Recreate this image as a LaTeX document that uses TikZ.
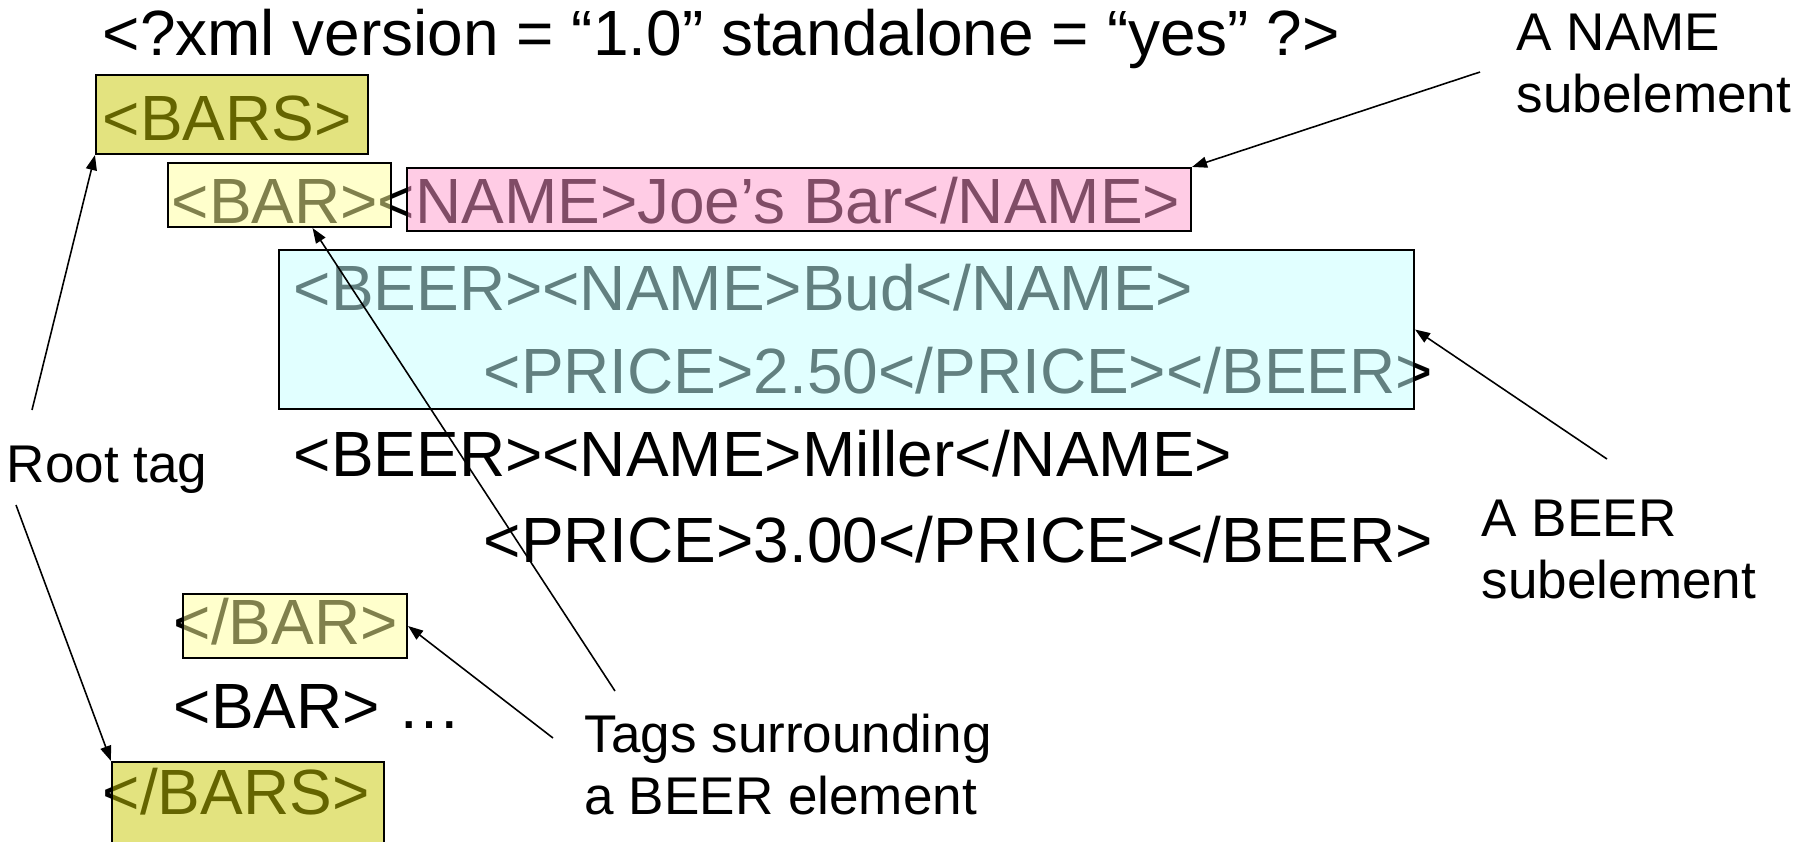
\documentclass[tikz,border=0pt]{standalone}
\usepackage{fontspec}
\setmainfont{Liberation Sans}
\usetikzlibrary{arrows.meta}

\definecolor{barsfill}{HTML}{C8C800}
\definecolor{barfill}{HTML}{FFFF99}
\definecolor{namefill}{HTML}{FF99CC}
\definecolor{beerfill}{HTML}{C4FFFF}

\begin{document}
\begin{tikzpicture}[x=0.1mm, y=-0.1mm,
    xml/.style = {anchor=base west, inner sep=0pt, font=\fontsize{18.2}{21.8}\selectfont},
    lbl/.style = {anchor=base west, inner sep=0pt, align=left, font=\fontsize{15.1}{17.6}\selectfont},
    hl/.style = {draw, line width=0.6pt, fill opacity=0.5, inner sep=0pt},
    arr/.style = {-{Triangle[length=1.5mm,width=1.1mm]}, line width=0.45pt}]
        \useasboundingbox (0,0) rectangle (1813,841);

        % the document, in black
        \node[xml] (decl) at (102,55) {<?xml version = “1.0” standalone = “yes” ?>};
        \node[xml] (bars) at (102,140) {<BARS>};
        \node[xml] (bar) at (171,223) {<BAR><NAME>Joe’s Bar</NAME>};
        \node[xml] (bud) at (293,310) {<BEER><NAME>Bud</NAME>};
        \node[xml] (budprice) at (483,393) {<PRICE>2.50</PRICE></BEER>};
        \node[xml] (miller) at (293,476) {<BEER><NAME>Miller</NAME>};
        \node[xml] (millerprice) at (483,562) {<PRICE>3.00</PRICE></BEER>};
        \node[xml] (endbar) at (173,644) {</BAR>};
        \node[xml] (nextbar) at (173,728) {<BAR> …};
        \node[xml] (endbars) at (102,814) {</BARS>};

        % highlights laid over the text
        \node[hl, fill=barsfill, minimum width=27.2mm, minimum height=7.9mm] (barsbox) at (232,114.5) {};
        \node[hl, fill=barfill, minimum width=22.3mm, minimum height=6.4mm] (barbox) at (279.5,195) {};
        \node[hl, fill=namefill, minimum width=78.4mm, minimum height=6.3mm] (namebox) at (799,199.5) {};
        \node[hl, fill=beerfill, minimum width=113.5mm, minimum height=15.9mm] (beerbox) at (846.5,329.5) {};
        \node[hl, fill=barfill, minimum width=22.4mm, minimum height=6.4mm] (ebarbox) at (295,626) {};
        \node[hl, fill=barsfill, minimum width=27.2mm, minimum height=9mm] (ebarsbox) at (248,807) {};

        % labels, placed by their last line
        \node[lbl] (namelbl) at (1516,112) {A NAME\\subelement};
        \node[lbl] (beerlbl) at (1481,598) {A BEER\\subelement};
        \node[lbl] (rootlbl) at (6,482) {Root tag};
        \node[lbl] (tagslbl) at (584,814) {Tags surrounding\\a BEER element};

        \coordinate (nametail) at (1480,72);
        \coordinate (beertail) at (1607,459);
        \coordinate (roottop) at (32,410);
        \coordinate (rootbot) at (16,505);
        \coordinate (tagstop) at (615,691);
        \coordinate (tagsbot) at (553,738);

        \draw[arr] (nametail) -- (namebox.north east);
        \draw[arr] (beertail) -- (beerbox.east);
        \draw[arr] (roottop) -- (barsbox.south west);
        \draw[arr] (rootbot) -- (ebarsbox.north west);
        \draw[arr] (tagstop) -- (barbox.-45);
        \draw[arr] (tagsbot) -- (ebarbox.east);

    \end{tikzpicture}
\end{document}
